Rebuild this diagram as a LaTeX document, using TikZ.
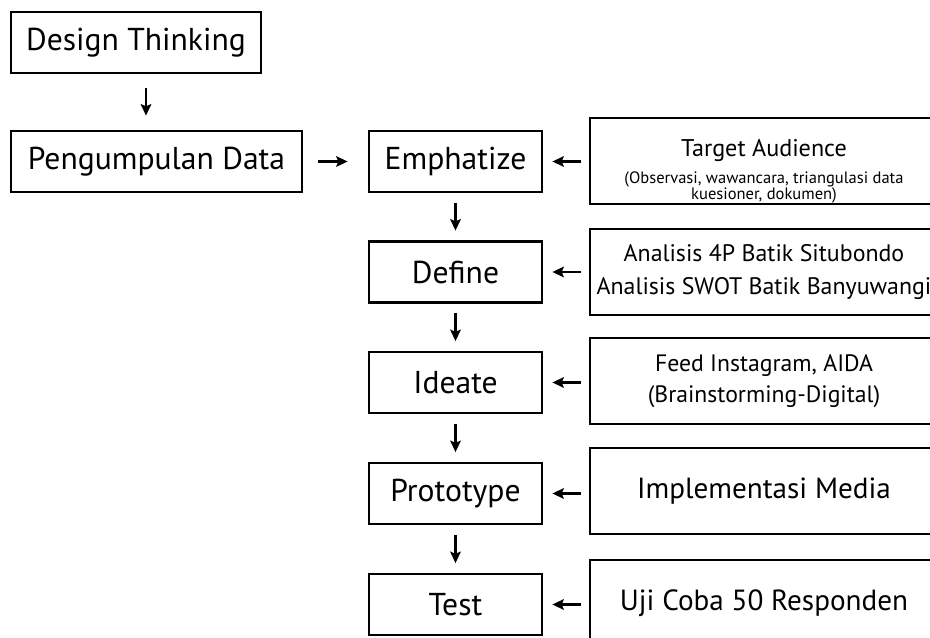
\documentclass[tikz,border=0pt]{standalone}
\usepackage{fontspec}
\setmainfont{PT Sans}
\usetikzlibrary{arrows.meta,positioning}
\tikzset{
  ar/.style={-{Stealth[length=6.5pt,width=6pt,inset=1.2pt]},line width=1.3pt},
  box/.style={draw,line width=1.6pt,minimum height=1.22cm,inner sep=2pt,font=\fontsize{18pt}{20pt}\selectfont},
  stage/.style={box,minimum width=3.46cm},
  side/.style={draw,line width=1.6pt,minimum width=6.96cm,minimum height=1.72cm,align=center,inner sep=2pt}
}

\begin{document}
\begin{tikzpicture}[x=0.02cm,y=-0.02cm]
\useasboundingbox (0,0) rectangle (930,638);
\clip (0,0) rectangle (930,638);
% left column
\node[box,minimum width=5cm] (design) at (136,42.5) {Design Thinking};
\node[box,minimum width=5.82cm] (data) at (156.5,161.5) {Pengumpulan Data};
% design thinking stages
\node[stage] (emph) at (455.5,161.5) {Emphatize};
\node[stage] (define) at (455.5,272) {Define};
\node[stage] (ideate) at (455.5,382.5) {Ideate};
\node[stage] (proto) at (455.5,493.5) {Prototype};
\node[stage] (test) at (455.5,604.5) {Test};
% inputs on the right
\node[side,inner sep=0pt,font=\fontsize{9.4pt}{9.2pt}\selectfont] (target) at (764,161)
  {\rule{0pt}{21.5pt}{\fontsize{13.75pt}{14pt}\selectfont Target Audience}\\[4.5pt]
   (Observasi, wawancara, triangulasi data\\kuesioner, dokumen)};
\node[side,font=\fontsize{13.6pt}{19.3pt}\selectfont] (anls) at (764,272)
  {Analisis 4P Batik Situbondo\\Analisis SWOT Batik Banyuwangi};
\node[side,font=\fontsize{13.5pt}{18pt}\selectfont] (feed) at (764,381)
  {Feed Instagram, AIDA\\(Brainstorming-Digital)};
\node[side,font=\fontsize{16.6pt}{18pt}\selectfont] (impl) at (764,491) {Implementasi Media};
\node[side,font=\fontsize{16.6pt}{18pt}\selectfont] (uji) at (764,603) {Uji Coba 50 Responden};
% arrows
\draw[ar,shorten <=0.28cm,shorten >=0.28cm] ([xshift=0.2cm]design.south) -- ([xshift=0.2cm]design.south |- data.north);
\draw[ar,shorten <=0.3cm,shorten >=0.4cm] (data.east) -- (emph.west);
\foreach \a/\b in {emph/define,define/ideate,ideate/proto,proto/test}
  \draw[ar,shorten <=0.19cm,shorten >=0.19cm] (\a) -- (\b);
\foreach \s/\t in {target/emph,anls/define,feed/ideate,impl/proto,uji/test}
  \draw[ar,shorten <=0.16cm,shorten >=0.18cm] (\s.west |- \t) -- (\t.east);
\end{tikzpicture}
\end{document}
